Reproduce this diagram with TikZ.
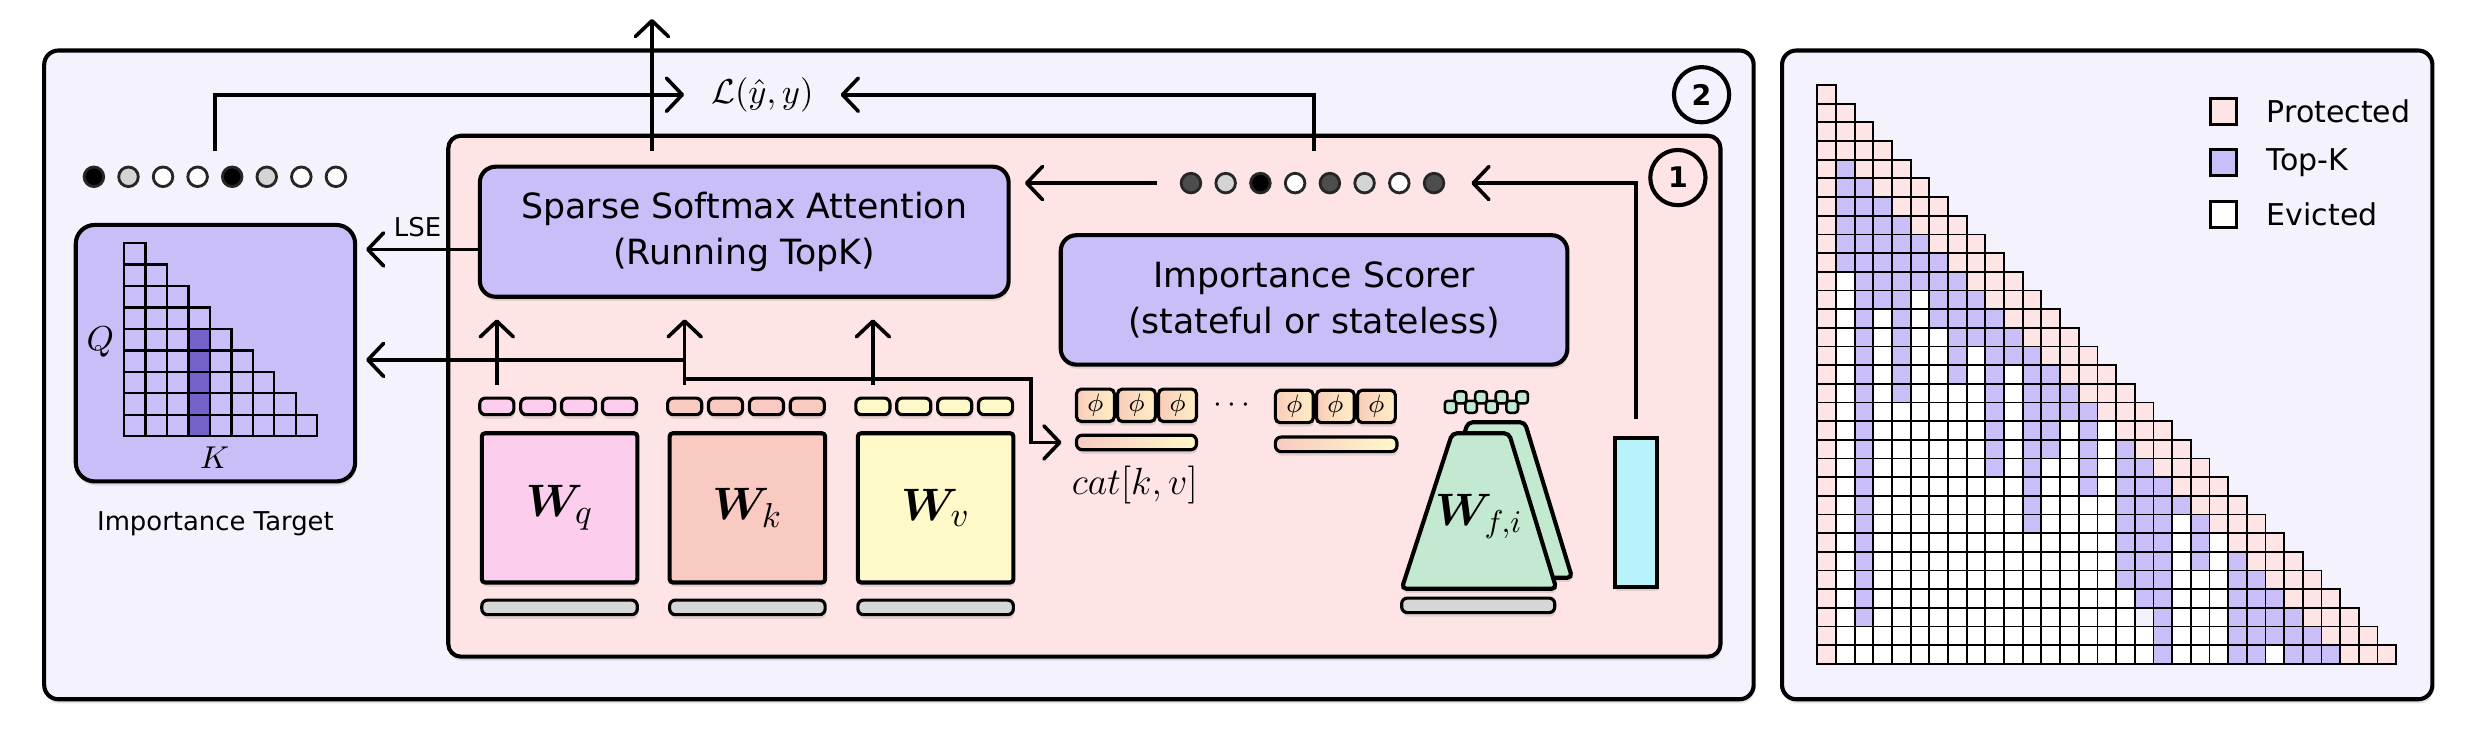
\documentclass[tikz,border=0pt]{standalone}
\usepackage{amsmath,amssymb}
\usepackage[no-math]{fontspec}
\setmainfont{DejaVu Sans}
\usetikzlibrary{arrows.meta,positioning,calc,shadows}

\definecolor{panelbg}{HTML}{F4F2FD}
\definecolor{innerbg}{HTML}{FFE4E6}
\definecolor{lav}{HTML}{C9BEF8}
\definecolor{darklav}{HTML}{7462C9}
\definecolor{qcol}{HTML}{FCCDEC}
\definecolor{kcol}{HTML}{F9CAC1}
\definecolor{vcol}{HTML}{FFF8C9}
\definecolor{fcol}{HTML}{C3E9D0}
\definecolor{cyancol}{HTML}{B8F3FC}
\definecolor{barcol}{HTML}{D6D6D6}
\definecolor{dotlt}{HTML}{D4D4D4}
\definecolor{dotdk}{HTML}{4D4D4D}
\definecolor{phil}{HTML}{F9CDB9}
\definecolor{phir}{HTML}{FFEEC6}

\tikzset{
  mcell/.style={draw=black,line width=0.55pt},
  mcellP/.style={fill=innerbg},
  mcellT/.style={fill=lav},
  mcellW/.style={fill=white},
  mcellX/.style={fill=panelbg}
}

% one row of the mask: P protected, T top-k, W evicted
\newcommand\cellrow[2]{\def\crow{#1}\def\ccol{0}\expandafter\cellnext#2\relax}
\newcommand\cellnext[1]{\ifx\relax#1\else\cellput{#1}\expandafter\cellnext\fi}
\newcommand\cellput[1]{\pgfmathtruncatemacro\ccol{\ccol+1}%
  \draw[mcell,mcell#1] ({1151.3+11.83*(\ccol-1)},{53.85+11.83*(\crow-1)}) rectangle ++(11.83,11.83);}

\begin{document}
\begin{tikzpicture}[x=0.5pt,y=-0.5pt,line width=1.15pt,
    >={Straight Barb[length=5pt,width=10.5pt,round]},
    shad/.style={drop shadow={opacity=0.22,shadow xshift=0.3pt,shadow yshift=-1.3pt}},
    panel/.style={draw,line width=1.3pt,rounded corners=4.5pt,inner sep=0pt,shad},
    blk/.style={draw,line width=1.3pt,rounded corners=5pt,fill=lav,align=center,inner sep=0pt,shad,font=\fontsize{11}{14.5}\selectfont},
    wbox/.style={draw,line width=1.3pt,rounded corners=1pt,minimum width=49.25pt,minimum height=47.25pt,inner sep=0pt,shad,font=\fontsize{15}{18}\selectfont},
    tok/.style={draw,line width=1pt,rounded corners=1.8pt,minimum width=10.8pt,minimum height=5.25pt,inner sep=0pt,shad},
    gbar/.style={draw,line width=1pt,rounded corners=1.8pt,fill=barcol,minimum height=4.6pt,inner sep=0pt,shad},
    phibox/.style={draw,line width=1pt,rounded corners=1.5pt,left color=phil,right color=phir,minimum width=12pt,minimum height=10.25pt,inner sep=0pt,shad,font=\fontsize{8}{8}\selectfont},
    fsq/.style={draw,line width=0.8pt,rounded corners=1pt,fill=fcol,minimum width=3.7pt,minimum height=3.8pt,inner sep=0pt},
    tdot/.style={circle,draw=black!85,line width=0.9pt,minimum size=6.2pt,inner sep=0pt},
    numc/.style={circle,draw,line width=1.3pt,minimum size=17.5pt,inner sep=0pt,font=\bfseries\fontsize{9}{9}\selectfont},
    legsq/.style={draw,line width=1pt,minimum size=8.2pt,inner sep=0pt},
    legtxt/.style={inner sep=0pt,font=\fontsize{9.5}{11}\selectfont},
    lbl/.style={font=\fontsize{8.2}{10}\selectfont},
    scell/.style={draw,line width=0.7pt,fill=lav}]
  \useasboundingbox (0,0) rectangle (1568,466);

  % panels
  \node[panel,fill=panelbg,minimum width=541.5pt,minimum height=205.5pt] (outer) at (569.5,237.5) {};
  \node[panel,fill=panelbg,minimum width=206pt,minimum height=205.5pt] (maskpanel) at (1335,237.5) {};
  \node[panel,fill=innerbg,rounded corners=4pt,minimum width=403pt,minimum height=165pt] (inner) at (687,251) {};
  \node[numc] (n2) at (1078,60) {2};
  \node[numc] (n1) at (1063,112.5) {1};

  % importance target
  \node[panel,fill=lav,rounded corners=6pt,minimum width=88.5pt,minimum height=81.25pt] (tgt) at (136.5,223.75) {};
  \foreach \rw in {1,...,9}
    \foreach \cl in {1,...,\rw}
      \draw[scell] ({78.6+13.6*(\cl-1)},{154+13.6*(\rw-1)}) rectangle ++(13.6,13.6);
  \foreach \rw in {5,...,9}
    \draw[scell,fill=darklav] ({78.6+13.6*3},{154+13.6*(\rw-1)}) rectangle ++(13.6,13.6);
  \node[font=\fontsize{10.5}{12}\selectfont] (qlbl) at (63.6,217) {$Q$};
  \node[font=\fontsize{10}{12}\selectfont] (klbl) at (136,290) {$K$};
  \node[lbl,below=5pt of tgt] (tgtlbl) {Importance Target};

  \node[minimum width=85pt,minimum height=15pt,inner sep=0pt] (tgtdots) at (136.3,112) {};
  \foreach \f [count=\i from 0] in {black,dotlt,white,white,black,dotlt,white,white}
    \node[tdot,fill=\f] (td\i) at ({59.5+21.9*\i},112) {};
  \node[inner xsep=8pt,font=\fontsize{10.5}{12}\selectfont] (loss) at (483,60) {$\mathcal{L}(\hat{y},y)$};

  % attention and scorer
  \node[blk,minimum width=167.5pt,minimum height=41.2pt] (attn) at (471.5,146.8) {Sparse Softmax Attention\\(Running TopK)};
  \node[blk,minimum width=160.5pt,minimum height=41pt] (scorer) at (832.5,190) {Importance Scorer\\(stateful or stateless)};
  \node[minimum width=98.5pt,minimum height=19pt,inner sep=0pt] (scoredots) at (832.5,116) {};
  \foreach \f [count=\i from 0] in {dotdk,dotlt,black,white,dotdk,dotlt,white,dotdk}
    \node[tdot,fill=\f] (sd\i) at ({754.5+22*\i},116) {};

  % projections
  \node[wbox,fill=qcol] (wq) at (354.5,321.75) {$\boldsymbol{W}\!_{q}$};
  \node[wbox,fill=kcol] (wk) at (473.5,321.75) {$\boldsymbol{W}\!_{k}$};
  \node[wbox,fill=vcol] (wv) at (592.75,321.75) {$\boldsymbol{W}\!_{v}$};
  \foreach \w/\col in {wq/qcol,wk/kcol,wv/vcol}{
    \foreach \i in {1,...,4}
      \node[tok,fill=\col] (\w tok\i) at ($(\w.north west)+({10.8+25.9*(\i-1)},-15.75)$) {};
    \node[gbar,minimum width=49.25pt] (\w bar) at ($(\w.south)+(0,14.5)$) {};
  }

  % features
  \foreach \x [count=\i] in {694,720,746}
    \node[phibox] (phia\i) at (\x,256.75) {$\phi$};
  \foreach \x [count=\i] in {820,846,872}
    \node[phibox] (phib\i) at (\x,257.5) {$\phi$};
  \node (phidots) at (782,257) {$\cdots$};
  \node[gbar,left color=kcol,right color=vcol,minimum width=38pt] (catbar) at (720,280.3) {};
  \node[gbar,left color=kcol,right color=vcol,minimum width=38.5pt] (catbar2) at (846.5,281.5) {};
  \node[font=\fontsize{11.5}{13}\selectfont] (catlbl) at (719,307) {$cat[k,v]$};

  % forget / input gate
  \draw[shad,fill=fcol,line width=1.3pt,rounded corners=1.5pt] (898,366) -- (996,366) -- (966,267.5) -- (930,267.5) -- cycle;
  \draw[shad,fill=fcol,line width=1.3pt,rounded corners=1.5pt] (888,373) -- (986,373) -- (956,274.5) -- (920,274.5) -- cycle;
  \node[font=\fontsize{14}{16}\selectfont] (wf) at (937,327) {$\boldsymbol{W}\!_{f,i}$};
  \node[gbar,minimum width=48.5pt] (wfbar) at (936.5,383.5) {};
  \foreach \i in {0,...,3}
    \node[fsq] (fb\i) at ({925.3+13*\i},251.8) {};
  \foreach \i in {0,...,3}
    \node[fsq] (ff\i) at ({919+13*\i},257.7) {};
  \node[draw,line width=1.3pt,fill=cyancol,minimum width=13.5pt,minimum height=47.2pt,inner sep=0pt,shad] (gate) at (1036.5,324.8) {};

  % connectors
  \coordinate (outtop) at (413,12);
  \coordinate (lsey) at (0,158);
  \coordinate (ky1) at (0,228);
  \coordinate (ky2) at (653,240);
  \draw[->,shorten <=4.3pt] (attn.north -| outtop) -- (outtop);
  \draw[->] (tgtdots.north) |- (loss.west);
  \draw[->] (scoredots.north) |- (loss.east);
  \draw[->,shorten >=4.5pt] (scoredots.west) -- (scoredots.west -| attn.east);
  \draw[->,shorten <=5.3pt] (gate.north) |- (scoredots.east);
  \draw[->,shorten >=2.8pt] (attn.west |- lsey) -- node[lbl,above] {LSE} (tgt.east |- lsey);
  \foreach \w in {wq,wk,wv}
    \draw[->,shorten <=3.75pt,shorten >=6.5pt] (\w tok1.north) -- (\w tok1.north |- attn.south);
  \draw[->,shorten >=2.8pt] (wktok1.north |- ky1) -- (tgt.east |- ky1);
  \draw[->,shorten >=4.25pt] (wktok1.north |- ky2) -- (ky2) |- (catbar.west);

  % mask legend
  \node[legsq,fill=innerbg] (legp) at (1408.8,70.5) {};
  \node[legsq,fill=lav,below=7.1pt of legp] (legt) {};
  \node[legsq,fill=white,below=7.1pt of legt] (lege) {};
  \node[legtxt,right=8.5pt of legp] {Protected};
  \node[legtxt,right=8.5pt of legt] {Top-K};
  \node[legtxt,right=8.5pt of lege] {Evicted};

  % mask grid
  \foreach \rw/\pat in {1/P,2/PP,3/PPP,4/PPPP,5/PTPPP,6/PTTPPP,7/PTTTPPP,8/PTTTTPPP,
      9/PTTTTTPPP,10/PTTTTTTPPP,11/PWTTTTTTPPP,12/PWTTTWTTTPPP,13/PWTWTWTTTTPPP,
      14/PWTWTWWTTTTPPP,15/PWTWTWWTWTTTPPP,16/PWTWTWWTWTWTTPPP,17/PWTWTWWWWTWTTTPPP,
      18/PWTWWWWWWTWTTTTPPP,19/PWTWWWWWWTWTTWTWPPP,20/PWTWWWWWWTWTTWTWTPPP,
      21/PWTWWWWWWTWTWWTWTTPPP,22/PWTWWWWWWWWTWWTWTTTPPP,23/PWTWWWWWWWWTWWWWTTTTPPP,
      24/PWTWWWWWWWWTWWWWTTTWTPPP,25/PWTWWWWWWWWWWWWWTTTWTWPPP,
      26/PWTWWWWWWWWWWWWWTTTWTWTPPP,27/PWTWWWWWWWWWWWWWTTTWWWTTPPP,
      28/PWTWWWWWWWWWWWWWWTTWWWTTTPPP,29/PWTWWWWWWWWWWWWWWXTWWWTTTTPPP,
      30/PWWWWWWWWWWWWWWWWWTWWWTTTTTPPP,31/PWWWWWWWWWWWWWWWWWTWWWTTWTTTPPP}
    {\cellrow{\rw}{\pat}}
\end{tikzpicture}
\end{document}
